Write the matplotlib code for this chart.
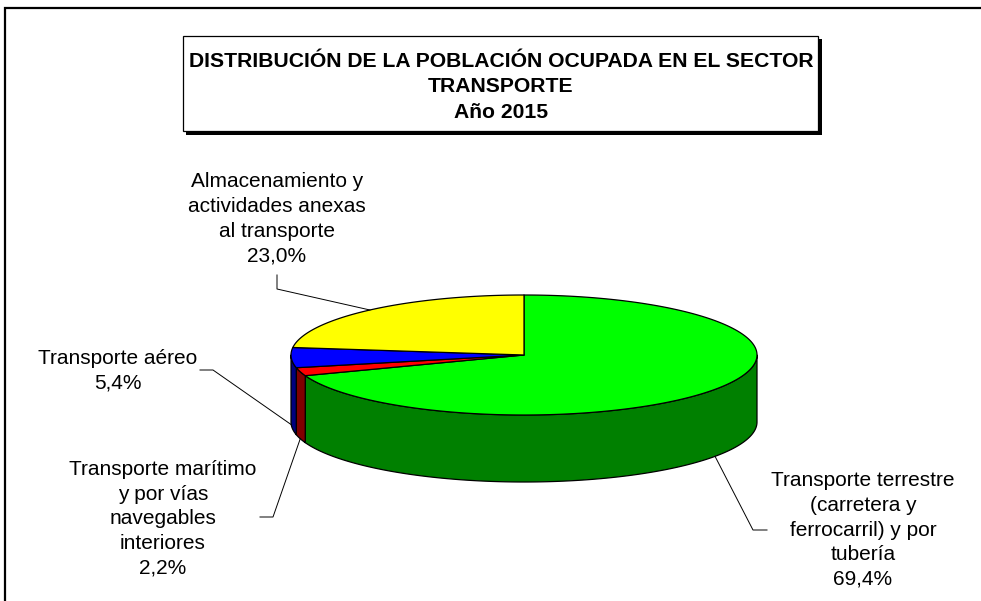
import matplotlib.pyplot as plt
import numpy as np
from matplotlib.patches import Polygon, Rectangle

plt.rcParams['font.family'] = ['Liberation Sans', 'DejaVu Sans']

# datos
categorias = ["Transporte terrestre\n(carretera y\nferrocarril) y por\ntubería",
              "Transporte marítimo\ny por vías\nnavegables\ninteriores",
              "Transporte aéreo",
              "Almacenamiento y\nactividades anexas\nal transporte"]
porcentajes = [69.4, 2.2, 5.4, 23.0]
colores_sup = ["#00FF00", "#FF0000", "#0000FF", "#FFFF00"]
colores_lado = ["#008000", "#800000", "#000080", "#808000"]
titulo = "DISTRIBUCIÓN DE LA POBLACIÓN OCUPADA EN EL SECTOR\nTRANSPORTE\nAño 2015"

# posiciones de las etiquetas (pixeles) y codos de las guías
pos_etiq = [(863, 530), (163, 519), (118, 371), (277, 219)]
codos = [[(767, 530), (753, 530)],
         [(260, 517), (273, 517)],
         [(200, 370), (213, 370)],
         [(277, 275), (277, 289)]]

fig = plt.figure(figsize=(9.81, 6.01), dpi=100)
ax = fig.add_axes([0, 0, 1, 1])
ax.set_xlim(0, 981)
ax.set_ylim(601, 0)
ax.axis('off')

# marco exterior
ax.plot([5, 5, 981], [601, 7.5, 7.5], color='black', lw=1.6, solid_joinstyle='miter')

# caja del titulo con sombra
ax.add_patch(Rectangle((186, 39), 636, 96, facecolor='black', edgecolor='none'))
ax.add_patch(Rectangle((183, 36), 635, 95, facecolor='white', edgecolor='black', lw=0.9))
ax.text(501, 87, titulo, ha='center', va='center', fontsize=15.2, fontweight='bold',
        multialignment='center', linespacing=1.45)

# pastel 3D
cx, cy, a, b, prof = 524, 355, 233, 60, 67


def borde(t, dy=0):
    t = np.radians(t)
    return cx + a * np.sin(t), cy - b * np.cos(t) + dy


frac = np.array(porcentajes) / sum(porcentajes)
limites = np.concatenate([[0], np.cumsum(frac) * 360])

# paredes laterales visibles (mitad delantera: 90..270 grados)
for i in range(len(porcentajes)):
    t1, t2 = max(limites[i], 90), min(limites[i + 1], 270)
    if t2 <= t1:
        continue
    t = np.linspace(t1, t2, 200)
    xs, ys = borde(t)
    xb, yb = borde(t[::-1], prof)
    pts = np.column_stack([np.concatenate([xs, xb]), np.concatenate([ys, yb])])
    ax.add_patch(Polygon(pts, closed=True, facecolor=colores_lado[i],
                         edgecolor='black', lw=0.9, joinstyle='round'))

# caras superiores
for i in range(len(porcentajes)):
    t = np.linspace(limites[i], limites[i + 1], 300)
    xs, ys = borde(t)
    pts = np.column_stack([np.concatenate([[cx], xs]), np.concatenate([[cy], ys])])
    ax.add_patch(Polygon(pts, closed=True, facecolor=colores_sup[i],
                         edgecolor='black', lw=0.9, joinstyle='round'))

# etiquetas y guías
for i in range(len(porcentajes)):
    tm = (limites[i] + limites[i + 1]) / 2
    dy = prof if np.cos(np.radians(tm)) < 0 else 0
    ex, ey = borde(tm, dy)
    xs = [p[0] for p in codos[i]] + [ex]
    ys = [p[1] for p in codos[i]] + [ey]
    ax.plot(xs, ys, color='black', lw=0.7)
    txt = categorias[i] + "\n" + f"{porcentajes[i]:.1f}%".replace('.', ',')
    ax.text(pos_etiq[i][0], pos_etiq[i][1], txt, ha='center', va='center',
            fontsize=15, multialignment='center', linespacing=1.38)

fig.savefig("out.png", dpi=100)
